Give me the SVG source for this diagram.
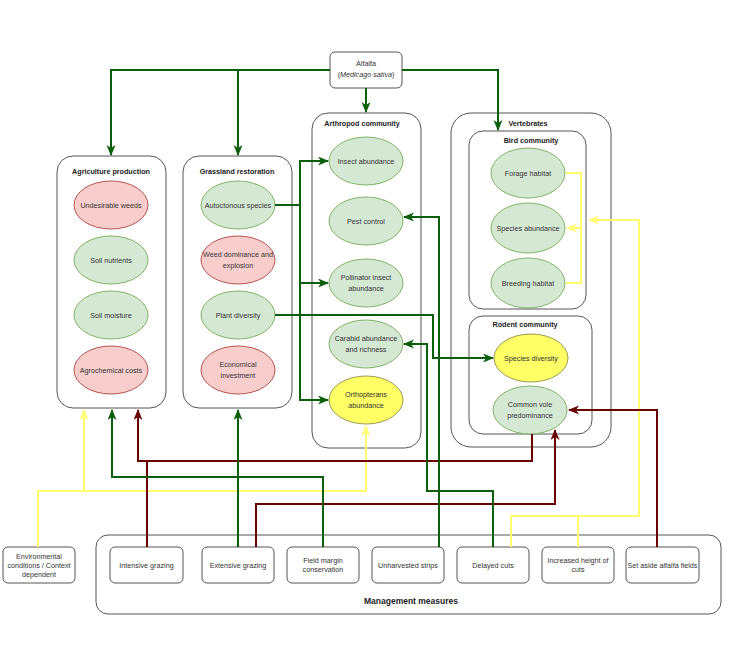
<svg xmlns="http://www.w3.org/2000/svg" width="738" height="671" viewBox="0 0 738 671">
<style>
text{font-family:"Liberation Sans",Arial,sans-serif;fill:#333;text-anchor:middle;font-size:7.2px}
.t{font-weight:bold;fill:#222}
.ct{fill:#fff;stroke:#555;stroke-width:1}
.box{fill:#fff;stroke:#555;stroke-width:1}
.g{fill:#d5e8d4;stroke:#82b366;stroke-width:1}
.r{fill:#f8cecc;stroke:#b85450;stroke-width:1}
.y{fill:#ffff66;stroke:#9a9a50;stroke-width:1}
.cg{fill:none;stroke:#0b5f0b;stroke-width:2}
.cr{fill:none;stroke:#6b0000;stroke-width:2}
.cy{fill:none;stroke:#ffff70;stroke-width:2}
</style>
<defs>
<marker id="ag" markerUnits="userSpaceOnUse" markerWidth="12" markerHeight="10" refX="10" refY="4.5" orient="auto"><path d="M0,0 L11,4.5 L0,9 L3,4.5z" fill="#0b5f0b"/></marker>
<marker id="ar" markerUnits="userSpaceOnUse" markerWidth="12" markerHeight="10" refX="10" refY="4.5" orient="auto"><path d="M0,0 L11,4.5 L0,9 L3,4.5z" fill="#6b0000"/></marker>
<marker id="ay" markerUnits="userSpaceOnUse" markerWidth="12" markerHeight="10" refX="10" refY="4.5" orient="auto"><path d="M0,0 L11,4.5 L0,9 L3,4.5z" fill="#ffff70"/></marker>
</defs>
<rect width="738" height="671" fill="#fff"/>

<g id="management">
<rect class="ct" x="96" y="535" width="625" height="79" rx="12"/>
<text class="t" x="411" y="604" style="font-size:8.5px">Management measures</text>
</g>

<g id="agriculture">
<rect class="ct" x="57" y="156" width="109" height="252" rx="16"/>
<text class="t" x="111" y="174">Agriculture production</text>
<ellipse class="r" cx="111" cy="205" rx="37" ry="24"/><text x="111" y="207.5">Undesirable weeds</text>
<ellipse class="g" cx="111" cy="260" rx="37" ry="24"/><text x="111" y="262.5">Soil nutrients</text>
<ellipse class="g" cx="111" cy="315" rx="37" ry="24"/><text x="111" y="317.5">Soil moisture</text>
<ellipse class="r" cx="111" cy="370" rx="37" ry="24"/><text x="111" y="372.5">Agrochemical costs</text>
</g>

<g id="grassland">
<rect class="ct" x="183" y="156" width="109" height="252" rx="16"/>
<text class="t" x="237" y="174">Grassland restoration</text>
<ellipse class="g" cx="238" cy="205" rx="37" ry="24"/><text x="238" y="207.5">Autoctonous species</text>
<ellipse class="r" cx="238" cy="260" rx="37" ry="24"/><text x="238" y="257">Weed dominance and</text><text x="238" y="267.5">explosion</text>
<ellipse class="g" cx="238" cy="315" rx="37" ry="24"/><text x="238" y="317.5">Plant diversity</text>
<ellipse class="r" cx="238" cy="370" rx="37" ry="24"/><text x="238" y="367">Economical</text><text x="238" y="377.5">investment</text>
</g>

<g id="arthropod">
<rect class="ct" x="312" y="113" width="109" height="335" rx="16"/>
<text class="t" x="362" y="126">Arthropod community</text>
<ellipse class="g" cx="366" cy="161" rx="37" ry="24"/><text x="366" y="163.5">Insect abundance</text>
<ellipse class="g" cx="366" cy="221" rx="37" ry="24"/><text x="366" y="223.5">Pest control</text>
<ellipse class="g" cx="366" cy="283" rx="37" ry="24"/><text x="366" y="280">Pollinator insect</text><text x="366" y="290.5">abundance</text>
<ellipse class="g" cx="366" cy="344" rx="37" ry="24"/><text x="366" y="341">Carabid abundance</text><text x="366" y="351.5">and richness</text>
<ellipse class="y" cx="366" cy="400" rx="37" ry="24"/><text x="366" y="397">Orthopterans</text><text x="366" y="407.5">abundance</text>
</g>

<g id="vertebrates">
<rect class="ct" x="451" y="113" width="160" height="334" rx="20"/>
<text class="t" x="528" y="126">Vertebrates</text>
</g>

<g id="bird">
<rect class="ct" x="469" y="131" width="117" height="178" rx="14"/>
<text class="t" x="531" y="143">Bird community</text>
<ellipse class="g" cx="528" cy="173" rx="37" ry="25"/><text x="528" y="175.5">Forage habitat</text>
<ellipse class="g" cx="528" cy="228" rx="37" ry="25"/><text x="528" y="230.5">Species abundance</text>
<ellipse class="g" cx="528" cy="283" rx="37" ry="25"/><text x="528" y="285.5">Breeding habitat</text>
</g>

<g id="rodent">
<rect class="ct" x="469" y="316" width="123" height="118" rx="14"/>
<text class="t" x="525" y="327">Rodent community</text>
<ellipse class="y" cx="531" cy="358" rx="37" ry="24"/><text x="531" y="360.5">Species diversity</text>
<ellipse class="g" cx="530" cy="410" rx="37" ry="24"/><text x="530" y="407">Common vole</text><text x="530" y="417.5">predominance</text>
</g>

<g id="alfalfa">
<rect class="box" x="330" y="52" width="72" height="36" rx="5"/>
<text x="366" y="66">Alfalfa</text>
<text x="366" y="77">(<tspan font-style="italic">Medicago sativa</tspan>)</text>
</g>

<g id="env">
<rect class="box" x="3" y="547" width="72" height="36" rx="5"/>
<text x="39" y="558.5">Environmental</text><text x="39" y="567.5">conditions / Context</text><text x="39" y="576.5">dependent</text>
</g>
<g id="m-intensive"><rect class="box" x="110" y="547" width="73" height="36" rx="5"/><text x="146.5" y="567.5">Intensive grazing</text></g>
<g id="m-extensive"><rect class="box" x="202" y="547" width="72" height="36" rx="5"/><text x="238" y="567.5">Extensive grazing</text></g>
<g id="m-margin"><rect class="box" x="287" y="547" width="72" height="36" rx="5"/><text x="323" y="562.5">Field margin</text><text x="323" y="572">conservation</text></g>
<g id="m-strips"><rect class="box" x="372" y="547" width="72" height="36" rx="5"/><text x="408" y="567.5">Unharvested strips</text></g>
<g id="m-delayed"><rect class="box" x="457" y="547" width="72" height="36" rx="5"/><text x="493" y="567.5">Delayed cuts</text></g>
<g id="m-height"><rect class="box" x="542" y="547" width="72" height="36" rx="5"/><text x="578" y="562.5">Increased height of</text><text x="578" y="572">cuts</text></g>
<g id="m-setaside"><rect class="box" x="626" y="547" width="73" height="36" rx="5"/><text x="662.5" y="567.5">Set aside alfalfa fields</text></g>

<g id="connectors">
<!-- yellow -->
<path class="cy" d="M38,547 V491 H366 V426" marker-end="url(#ay)"/>
<path class="cy" d="M84,491 V410" marker-end="url(#ay)"/>
<path class="cy" d="M511,547 V516 H639 V220 H589" marker-end="url(#ay)"/>
<path class="cy" d="M578,547 V516"/>
<path class="cy" d="M566,173 H581 V283 H566"/>
<path class="cy" d="M581,228 H567" marker-end="url(#ay)"/>
<!-- maroon -->
<path class="cr" d="M532,434 V461 H138 V410" marker-end="url(#ar)"/>
<path class="cr" d="M147,547 V461"/>
<path class="cr" d="M256,547 V504 H555 V430" marker-end="url(#ar)"/>
<path class="cr" d="M657,547 V410 H569" marker-end="url(#ar)"/>
<!-- green -->
<path class="cg" d="M330,70 H111 V155" marker-end="url(#ag)"/>
<path class="cg" d="M238,70 V155" marker-end="url(#ag)"/>
<path class="cg" d="M366,88 V112" marker-end="url(#ag)"/>
<path class="cg" d="M402,70 H498 V130" marker-end="url(#ag)"/>
<path class="cg" d="M275,205 H300 V161 H328" marker-end="url(#ag)"/>
<path class="cg" d="M300,205 V400 H328" marker-end="url(#ag)"/>
<path class="cg" d="M300,283 H328" marker-end="url(#ag)"/>
<path class="cg" d="M275,315 H433 V358 H493" marker-end="url(#ag)"/>
<path class="cg" d="M439,547 V217 H404" marker-end="url(#ag)"/>
<path class="cg" d="M493,547 V491 H427 V344 H404" marker-end="url(#ag)"/>
<path class="cg" d="M238,547 V410" marker-end="url(#ag)"/>
<path class="cg" d="M323,547 V477 H112 V410" marker-end="url(#ag)"/>
</g>
</svg>
